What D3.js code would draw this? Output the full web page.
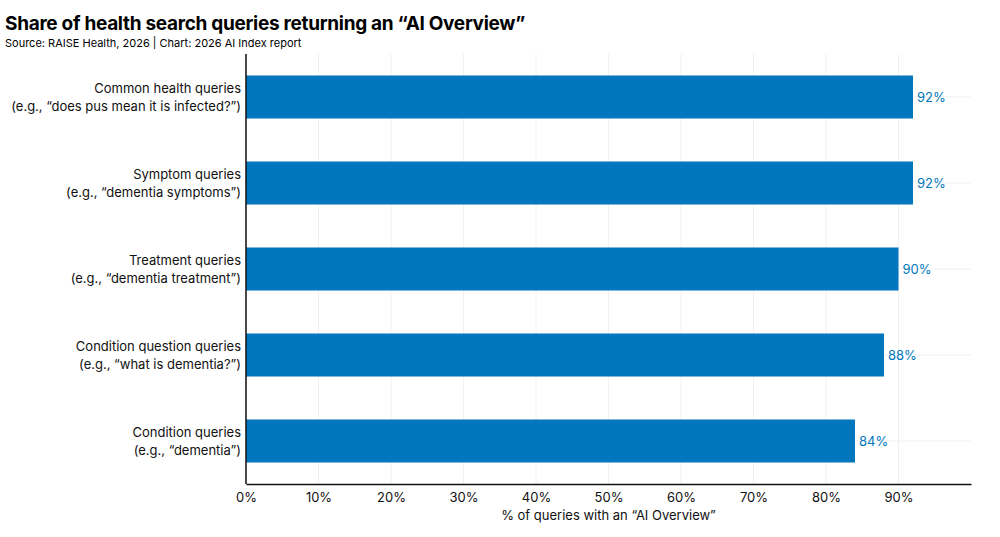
<!DOCTYPE html>
<html>
<head>
<meta charset="utf-8">
<script src="https://cdn.jsdelivr.net/npm/d3@7"></script>
<style>
  body { margin: 0; background: #fff; }
  text { font-family: "Inter", "Noto Sans", sans-serif; }
</style>
</head>
<body>
<script>
// data
var categories = [
  ["Common health queries", "(e.g., \u201cdoes pus mean it is infected?\u201d)"],
  ["Symptom queries", "(e.g., \u201cdementia symptoms\u201d)"],
  ["Treatment queries", "(e.g., \u201cdementia treatment\u201d)"],
  ["Condition question queries", "(e.g., \u201cwhat is dementia?\u201d)"],
  ["Condition queries", "(e.g., \u201cdementia\u201d)"]
];
var values = [92, 92, 90, 88, 84];
var xTicks = [0, 10, 20, 30, 40, 50, 60, 70, 80, 90];

var width = 1000, height = 537;
var margin = { top: 54, right: 29, bottom: 53, left: 246 };

var svg = d3.select("body").append("svg")
    .attr("width", width)
    .attr("height", height);

// title + source
svg.append("text")
  .attr("x", 5).attr("y", 30)
  .style("font-size", "19px").style("font-weight", "700")
  .style("letter-spacing", "-0.3px")
  .text("Share of health search queries returning an \u201cAI Overview\u201d");
svg.append("text")
  .attr("x", 5).attr("y", 47)
  .style("font-size", "11px")
  .text("Source: RAISE Health, 2026 | Chart: 2026 AI Index report");

var x = d3.scaleLinear()
  .domain([0, 100])
  .range([margin.left, width - margin.right]);

var y = d3.scaleBand()
  .domain(d3.range(categories.length))
  .range([margin.top, height - margin.bottom])
  .paddingInner(0.5)
  .paddingOuter(0.25);

// grid
svg.append("g").selectAll("line.v")
  .data(xTicks)
  .enter().append("line")
  .attr("x1", function(d) { return x(d); })
  .attr("x2", function(d) { return x(d); })
  .attr("y1", margin.top).attr("y2", height - margin.bottom)
  .attr("stroke", "#f0f0f0");
svg.append("g").selectAll("line.h")
  .data(d3.range(categories.length))
  .enter().append("line")
  .attr("x1", margin.left).attr("x2", width - margin.right)
  .attr("y1", function(d) { return y(d) + y.bandwidth() / 2; })
  .attr("y2", function(d) { return y(d) + y.bandwidth() / 2; })
  .attr("stroke", "#f0f0f0");

// bars
svg.append("g").selectAll("rect")
  .data(values)
  .enter().append("rect")
  .attr("x", x(0))
  .attr("y", function(d, i) { return y(i); })
  .attr("width", function(d) { return x(d) - x(0); })
  .attr("height", y.bandwidth())
  .attr("fill", "#0077bd");

// value labels
svg.append("g").selectAll("text")
  .data(values)
  .enter().append("text")
  .attr("x", function(d) { return x(d) + 4; })
  .attr("y", function(d, i) { return y(i) + y.bandwidth() / 2; })
  .attr("dy", "0.35em")
  .style("font-size", "13px")
  .attr("fill", "#0077bd")
  .text(function(d) { return d + "%"; });

// y labels
var yl = svg.append("g").selectAll("text")
  .data(categories)
  .enter().append("text")
  .attr("text-anchor", "end")
  .style("font-size", "13px")
  .attr("fill", "#111");
yl.append("tspan")
  .attr("x", margin.left - 5)
  .attr("y", function(d, i) { return y(i) + y.bandwidth() / 2 - 4; })
  .text(function(d) { return d[0]; });
yl.append("tspan")
  .attr("x", margin.left - 5)
  .attr("y", function(d, i) { return y(i) + y.bandwidth() / 2 + 14; })
  .text(function(d) { return d[1]; });

// x axis
var xAxis = svg.append("g")
  .attr("transform", "translate(0," + (height - margin.bottom) + ")")
  .call(d3.axisBottom(x).tickValues(xTicks).tickSize(0).tickPadding(9)
    .tickFormat(function(d) { return d + "%"; }));
xAxis.select(".domain").attr("stroke", "#111").attr("stroke-width", 1.5);
xAxis.selectAll("text").style("font-size", "13px").attr("fill", "#111")
  .style("font-family", "Inter, 'Noto Sans', sans-serif");

// y axis line
svg.append("line")
  .attr("x1", margin.left).attr("x2", margin.left)
  .attr("y1", margin.top).attr("y2", height - margin.bottom)
  .attr("stroke", "#111").attr("stroke-width", 1.5);

svg.append("text")
  .attr("x", (x.range()[0] + x.range()[1]) / 2)
  .attr("y", 520)
  .attr("text-anchor", "middle")
  .style("font-size", "13px")
  .attr("fill", "#111")
  .text("% of queries with an \u201cAI Overview\u201d");
</script>
</body>
</html>
